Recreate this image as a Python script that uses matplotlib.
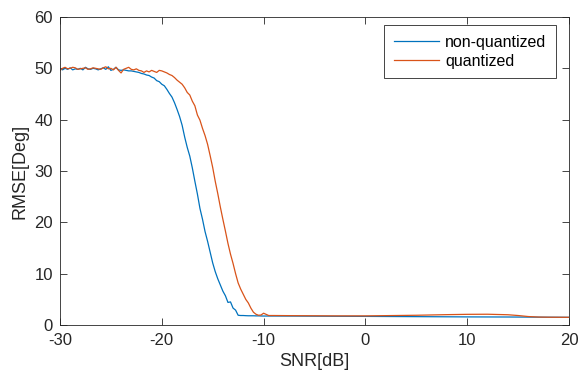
import matplotlib.pyplot as plt
import numpy as np

plt.rcParams['font.family'] = ['Liberation Sans', 'DejaVu Sans']
plt.rcParams['axes.unicode_minus'] = False

# SNR grid (dB)
snr_fine = [-30 + 0.25 * i for i in range(81)]          # -30 .. -10
snr_coarse = [-9.5, -9, -7, -5, -3, 0, 3, 5, 8, 10, 12, 14, 15, 16, 17, 18, 20]

rmse_nonq_fine = [50.0, 49.7, 50.0, 49.8, 50.1, 49.7, 49.9, 49.8, 50.0, 49.7,
                  50.2, 49.9, 49.8, 50.0, 49.9, 49.7, 49.9, 50.1, 49.8, 50.3,
                  49.6, 49.8, 50.2, 49.7, 49.6, 49.7, 49.6, 49.5, 49.5, 49.4,
                  49.3, 49.2, 49.0, 48.9, 48.7, 48.6, 48.3, 48.1, 47.6, 47.4,
                  46.9, 46.6, 45.9, 45.1, 44.4, 43.3, 42.0, 40.6, 38.9, 36.6,
                  34.6, 32.9, 30.6, 28.0, 25.5, 22.7, 20.6, 18.2, 16.3, 14.2,
                  12.1, 10.4, 9.0, 7.8, 6.6, 5.7, 4.4, 4.5, 3.3, 2.9,
                  1.9, 1.85, 1.85, 1.82, 1.8, 1.8, 1.8, 1.78, 1.78, 1.76,
                  1.75]
rmse_nonq_coarse = [1.75, 1.75, 1.74, 1.72, 1.7, 1.68, 1.65, 1.63, 1.6, 1.58,
                    1.57, 1.56, 1.55, 1.54, 1.53, 1.52, 1.5]

rmse_q_fine = [49.6, 50.0, 50.2, 49.9, 50.0, 50.2, 50.1, 49.8, 49.9, 50.0,
               50.1, 49.8, 49.9, 50.1, 50.0, 49.9, 49.8, 50.1, 50.3, 49.9,
               50.0, 49.7, 50.2, 49.6, 49.1, 49.8, 50.0, 50.2, 49.8, 49.7,
               49.9, 49.6, 49.5, 49.2, 49.5, 49.3, 49.6, 49.4, 49.2, 49.6,
               49.5, 49.3, 49.1, 48.8, 48.6, 48.2, 47.7, 47.3, 46.9, 46.2,
               45.3, 44.8, 43.6, 42.7, 40.9, 39.9, 38.3, 36.9, 35.2, 33.0,
               30.7, 28.0, 25.6, 23.0, 20.6, 18.3, 15.9, 13.8, 12.0, 10.0,
               8.2, 7.0, 6.0, 5.0, 4.3, 3.3, 2.5, 2.1, 1.9, 1.95,
               2.3]
rmse_q_coarse = [1.85, 1.85, 1.82, 1.8, 1.78, 1.78, 1.85, 1.9, 2.02, 2.08,
                 2.1, 2.0, 1.85, 1.65, 1.55, 1.52, 1.5]

snr = np.array(snr_fine + snr_coarse)
rmse_nonq = np.array(rmse_nonq_fine + rmse_nonq_coarse)
rmse_q = np.array(rmse_q_fine + rmse_q_coarse)

fig = plt.figure(figsize=(5.79, 3.8), dpi=100)
ax = fig.add_axes([0.1036, 0.1447, 0.8791, 0.8106])

ax.plot(snr, rmse_nonq, color='#0072BD', lw=0.9, label='non-quantized')
ax.plot(snr, rmse_q, color='#D95319', lw=0.9, label='quantized')

ax.set_xlim(-30, 20)
ax.set_ylim(0, 60)
ax.set_xticks([-30, -20, -10, 0, 10, 20])
ax.set_yticks([0, 10, 20, 30, 40, 50, 60])
ax.tick_params(direction='in', top=True, right=True, labelsize=12,
               colors='#262626', length=5, width=0.6)
ax.tick_params(axis='x', pad=6)
ax.tick_params(axis='y', pad=5)
for s in ax.spines.values():
    s.set_color('#262626')
    s.set_linewidth(0.6)
ax.set_xlabel('SNR[dB]', fontsize=13, color='#262626', labelpad=3)
ax.set_ylabel('RMSE[Deg]', fontsize=13, color='#262626', labelpad=4)

leg = ax.legend(loc='upper right', bbox_to_anchor=(0.9745, 0.974),
                borderaxespad=0, fontsize=11.5, fancybox=False,
                edgecolor='#262626', framealpha=1, handlelength=2.8,
                labelspacing=0.25, handletextpad=0.4, borderpad=0.6)
leg.get_frame().set_linewidth(0.6)

fig.savefig('out.png', dpi=100)
